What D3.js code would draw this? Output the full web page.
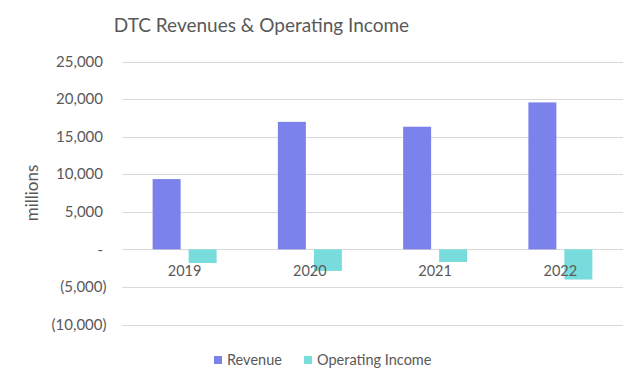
<!DOCTYPE html>
<html>
<head>
<meta charset="utf-8">
<script src="https://cdn.jsdelivr.net/npm/d3@7"></script>
<style>
  html, body { margin: 0; padding: 0; background: #fff; }
  svg { display: block; }
  text { font-family: Lato, "Open Sans", sans-serif; fill: #595959; }
</style>
</head>
<body>
<svg id="chart" width="640" height="380"></svg>
<script>
const categories = ["2019", "2020", "2021", "2022"];
const seriesNames = ["Revenue", "Operating Income"];
const revenue = [9349, 16967, 16319, 19558];
const operatingIncome = [-1814, -2864, -1679, -4015];
const yTicks = [-10000, -5000, 0, 5000, 10000, 15000, 20000, 25000];
const colors = ["#7b82ec", "#78dcdc"];

const svg = d3.select("#chart");
const plotLeft = 122, plotRight = 623, plotTop = 61.5, plotBottom = 324.5;

const x = d3.scaleBand().domain(categories).range([plotLeft, plotRight]).paddingInner(0).paddingOuter(0);
const groupW = 64;
const x1 = d3.scaleBand().domain(seriesNames).range([0, groupW]).paddingInner(8/36).paddingOuter(0);
const y = d3.scaleLinear().domain([-10000, 25000]).range([plotBottom, plotTop]);

// gridlines
svg.append("g").selectAll("line").data(yTicks).join("line")
  .attr("x1", plotLeft).attr("x2", plotRight)
  .attr("y1", d => Math.round(y(d)) + 0.5).attr("y2", d => Math.round(y(d)) + 0.5)
  .attr("stroke", "#d9d9d9").attr("stroke-width", 1);

// y tick labels (accounting format)
const fmt = d3.format(",");
svg.append("g").selectAll("text").data(yTicks).join("text")
  .attr("x", d => d < 0 ? 106.5 : 103)
  .attr("y", d => y(d))
  .attr("dy", "0.35em")
  .attr("text-anchor", "end")
  .style("font-size", "15px")
  .text(d => d === 0 ? "-" : d < 0 ? "(" + fmt(-d) + ")" : fmt(d));

// bars
const data = categories.map((c, i) => ({ c, vals: [revenue[i], operatingIncome[i]] }));
const groups = svg.append("g").selectAll("g").data(data).join("g")
  .attr("transform", d => `translate(${x(d.c) + (x.bandwidth() - groupW) / 2},0)`);
groups.selectAll("rect").data(d => d.vals.map((v, j) => ({ v, s: seriesNames[j], j })))
  .join("rect")
  .attr("x", d => x1(d.s))
  .attr("width", x1.bandwidth())
  .attr("y", d => y(Math.max(0, d.v)))
  .attr("height", d => Math.abs(y(d.v) - y(0)))
  .attr("fill", d => colors[d.j]);

// category labels
svg.append("g").selectAll("text").data(categories).join("text")
  .attr("x", d => x(d) + x.bandwidth() / 2)
  .attr("y", 275.5)
  .attr("text-anchor", "middle")
  .style("font-size", "14.5px")
  .text(d => d);

// title
svg.append("text")
  .attr("x", 261.5).attr("y", 32)
  .attr("text-anchor", "middle")
  .style("font-size", "19px")
  .text("DTC Revenues & Operating Income");

// y axis title
svg.append("text")
  .attr("transform", "translate(38,193) rotate(-90)")
  .attr("text-anchor", "middle")
  .style("font-size", "17px")
  .text("millions");

// legend
const legendX = [214, 304];
const lg = svg.append("g").selectAll("g").data(seriesNames).join("g")
  .attr("transform", (d, i) => `translate(${legendX[i]},356)`);
lg.append("rect").attr("width", 8).attr("height", 8).attr("fill", (d, i) => colors[i]);
lg.append("text").attr("x", 13).attr("y", 8.5).style("font-size", "14.5px").text(d => d);
</script>
</body>
</html>
